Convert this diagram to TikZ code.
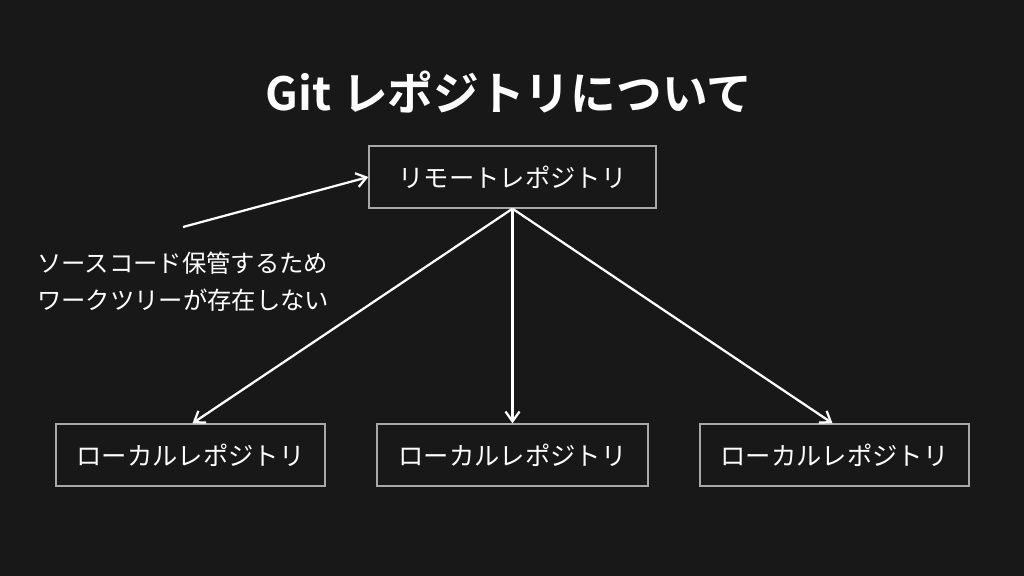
\documentclass[tikz,border=0pt]{standalone}
\usepackage{fontspec}
\newfontfamily\jp{Noto Sans CJK JP}
\newfontfamily\jpbold{Noto Sans CJK JP}[BoldFont=* Bold]
\definecolor{bg}{HTML}{181818}
\definecolor{boxline}{HTML}{A8A8A8}
\usetikzlibrary{arrows.meta}
\tikzset{
  repo/.style={draw=boxline,line width=1pt,text=white,minimum height=62*0.025cm,font=\jp\fontsize{18}{18}\selectfont},
  link/.style={draw=white,line width=1.6pt,-{Straight Barb[length=7pt,width=10pt,line width=1.6pt]}},
}
\begin{document}
\begin{tikzpicture}[x=0.025cm,y=-0.025cm]
\fill[bg] (0,0) rectangle (1024,576);
\useasboundingbox (0,0) rectangle (1024,576);

\node (title) at (509,92) [text=white,font=\jpbold\bfseries\fontsize{32.5}{32.5}\selectfont]{Git レポジトリについて};

\node (remote) at (512.5,177) [repo,minimum width=287*0.025cm]{リモートレポジトリ};
\node (local1) at (190.5,455) [repo,minimum width=269*0.025cm]{ローカルレポジトリ};
\node (local2) at (512.5,455) [repo,minimum width=271*0.025cm]{ローカルレポジトリ};
\node (local3) at (834.5,455) [repo,minimum width=269*0.025cm]{ローカルレポジトリ};

\node (note1) at (37,263) [anchor=west,text=white,inner sep=0,font=\jp\fontsize{17.3}{17.3}\selectfont]{ソースコード保管するため};
\node (note2) at (37,300) [anchor=west,text=white,inner sep=0,font=\jp\fontsize{17.3}{17.3}\selectfont]{ワークツリーが存在しない};

\coordinate (from) at (183,227);
\draw [link] (from) -- (remote.west);
\draw [link] (remote.south) -- ([xshift=2*0.025cm]local1.north);
\draw [link] (remote.south) -- (local2.north);
\draw [link] (remote.south) -- ([xshift=-2*0.025cm]local3.north);
\end{tikzpicture}
\end{document}
